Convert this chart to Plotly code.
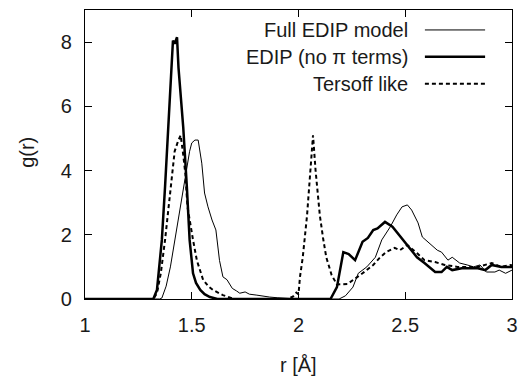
import plotly.graph_objects as go

# Full EDIP model (thin line)
r_full = [1.0, 1.35, 1.36, 1.38, 1.40, 1.436, 1.445, 1.453, 1.465, 1.477, 1.49, 1.50, 1.515,
          1.53, 1.547, 1.56, 1.576, 1.595, 1.613, 1.63, 1.646, 1.665, 1.69, 1.71, 1.725, 1.75,
          1.77, 1.805, 1.83, 1.865, 1.90, 1.95, 2.0, 2.10, 2.19, 2.22, 2.255, 2.28, 2.32, 2.36,
          2.39, 2.43, 2.46, 2.485, 2.51, 2.53, 2.56, 2.58, 2.615, 2.65, 2.67, 2.70, 2.72, 2.755,
          2.79, 2.82, 2.85, 2.88, 2.92, 2.94, 2.97, 3.0]
g_full = [0.0, 0.0, 0.03, 0.4, 1.0, 2.46, 2.7, 3.08, 3.6, 4.1, 4.6, 4.86, 4.95,
          4.95, 4.23, 3.3, 2.87, 2.46, 2.15, 1.2, 0.69, 0.6, 0.33, 0.25, 0.18, 0.22,
          0.15, 0.12, 0.09, 0.06, 0.04, 0.02, 0.0, 0.0, 0.0, 0.1, 0.37, 0.8, 1.0, 1.3,
          1.84, 2.25, 2.62, 2.87, 2.93, 2.77, 2.37, 1.93, 1.74, 1.52, 1.46, 1.21, 1.3, 1.12,
          1.06, 1.0, 1.06, 0.84, 0.84, 0.9, 0.8, 0.9]

# EDIP (no pi terms) (thick line)
r_nopi = [1.0, 1.32, 1.337, 1.36, 1.375, 1.39, 1.405, 1.412, 1.42, 1.431, 1.438, 1.46, 1.477,
          1.49, 1.506, 1.52, 1.54, 1.56, 1.585, 1.62, 2.15, 2.18, 2.21, 2.235, 2.265, 2.30,
          2.325, 2.35, 2.37, 2.405, 2.44, 2.47, 2.50, 2.53, 2.555, 2.59, 2.64, 2.67, 2.695,
          2.72, 2.765, 2.84, 2.875, 2.905, 2.95, 3.0]
g_nopi = [0.0, 0.0, 0.28, 1.84, 3.5, 5.4, 7.2, 8.05, 7.95, 8.15, 7.2, 5.36, 3.5,
          1.84, 0.8, 0.5, 0.28, 0.15, 0.06, 0.0, 0.0, 0.37, 1.46, 1.4, 1.21, 1.78,
          1.9, 2.15, 2.2, 2.4, 2.25, 2.0, 1.74, 1.52, 1.3, 1.12, 0.84, 0.84, 1.0,
          0.9, 0.96, 0.96, 0.9, 1.06, 1.0, 1.0]

# Tersoff like (dashed line)
r_ters = [1.0, 1.32, 1.337, 1.355, 1.375, 1.40, 1.42, 1.435, 1.448, 1.46, 1.47, 1.48, 1.493,
          1.506, 1.524, 1.553, 1.58, 1.60, 1.646, 1.70, 1.95, 1.975, 1.99, 2.0, 2.007, 2.02,
          2.04, 2.055, 2.068, 2.08, 2.10, 2.115, 2.13, 2.155, 2.18, 2.23, 2.27, 2.30, 2.35,
          2.38, 2.41, 2.45, 2.475, 2.51, 2.555, 2.59, 2.64, 2.685, 2.745, 2.84, 2.905, 2.95,
          2.99, 3.0]
g_ters = [0.0, 0.0, 0.18, 0.8, 1.84, 3.5, 4.6, 4.9, 5.1, 4.5, 3.9, 2.87, 2.3,
          1.84, 1.2, 0.6, 0.38, 0.28, 0.12, 0.0, 0.0, 0.08, 0.2, 0.15, 0.69, 1.3,
          2.6, 4.0, 5.1, 4.0, 2.6, 1.9, 1.3, 0.75, 0.45, 0.47, 0.65, 0.8, 1.06,
          1.28, 1.46, 1.59, 1.52, 1.68, 1.43, 1.21, 1.15, 1.06, 1.0, 1.0, 1.12, 1.0,
          1.06, 1.05]

series_names = ["Full EDIP model", "EDIP (no \u03c0 terms)", "Tersoff like"]
x_ticks = [1, 1.5, 2, 2.5, 3]
y_ticks = [0, 2, 4, 6, 8]

FONT = "Liberation Sans, Arial, Helvetica, sans-serif"
TXT = dict(family=FONT, size=20, color="#1a1a1a")
styles = [dict(color="black", width=1),
          dict(color="black", width=2.5),
          dict(color="black", width=2, dash="4px,3px")]

fig = go.Figure()
for (rx, gy), name, st in zip([(r_full, g_full), (r_nopi, g_nopi), (r_ters, g_ters)],
                             series_names, styles):
    fig.add_trace(go.Scatter(x=rx, y=gy, mode="lines", name=name, line=st,
                             showlegend=False, hoverinfo="skip"))

# manual gnuplot-style legend (text right-aligned, sample on the right)
leg_y = [0.931, 0.838, 0.745]
for name, st, yy in zip(series_names, styles, leg_y):
    fig.add_annotation(x=0.761, y=yy, xref="paper", yref="paper", text=name,
                       showarrow=False, xanchor="right", yanchor="middle", font=TXT)
    fig.add_shape(type="line", xref="paper", yref="paper", x0=0.796, x1=0.937,
                  y0=yy, y1=yy, line=st)

# axis titles
fig.add_annotation(x=0.5, y=-0.228, xref="paper", yref="paper", text="r [\u00c5]",
                   showarrow=False, xanchor="center", yanchor="middle", font=TXT)
fig.add_annotation(x=-0.136, y=0.509, xref="paper", yref="paper", text="g(r)",
                   showarrow=False, xanchor="center", yanchor="middle", textangle=-90,
                   font=TXT)

axis_common = dict(showline=True, linecolor="black", linewidth=1.2, mirror="ticks",
                   ticks="inside", ticklen=7, tickcolor="black", tickwidth=1,
                   showgrid=False, zeroline=False, automargin=False, tickfont=TXT)

fig.update_layout(
    width=521, height=376,
    margin=dict(l=85, r=9, t=10, b=77),
    paper_bgcolor="white", plot_bgcolor="white",
    font=TXT,
    xaxis=dict(range=[1, 3], tickvals=x_ticks, ticktext=[str(v) for v in x_ticks],
               ticklabelstandoff=8, **axis_common),
    yaxis=dict(range=[0, 9], tickvals=y_ticks, ticktext=[str(v) for v in y_ticks],
               ticklabelstandoff=8, **axis_common),
)

fig.write_html("out.html", config={"displayModeBar": False},
               post_script="document.body.style.margin='0px';"
                           "document.body.style.overflow='hidden';")
